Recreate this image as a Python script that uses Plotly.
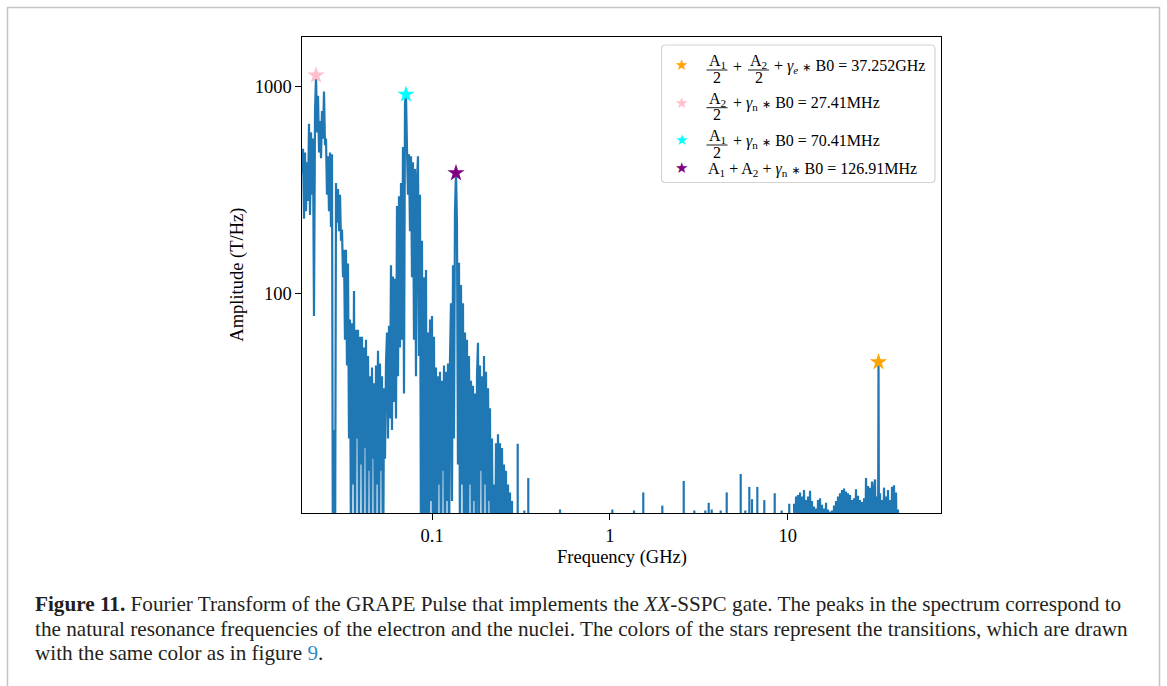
import plotly.graph_objects as go

# ---------------- data ----------------
# dense low-frequency part of the spectrum (GHz, T/Hz)
freq_low = [
    0.01853, 0.01877, 0.01902, 0.01926, 0.01951, 0.01977, 0.02003, 0.02029, 0.02055, 0.02082,
    0.02109, 0.02136, 0.02164, 0.02193, 0.02222, 0.02251, 0.02280, 0.02310, 0.02339, 0.02370,
    0.02400, 0.02432, 0.02463, 0.02495, 0.02528, 0.02561, 0.02594, 0.02628, 0.02662, 0.02697,
    0.02732, 0.02767, 0.02804, 0.02841, 0.02878, 0.02916, 0.02954, 0.02992, 0.03031, 0.03071,
    0.03111, 0.03151, 0.03192, 0.03233, 0.03275, 0.03318, 0.03361, 0.03405, 0.03450, 0.03495,
    0.03541, 0.03587, 0.03634, 0.03681, 0.03729, 0.03778, 0.03827, 0.03877, 0.03927, 0.03978,
    0.04030, 0.04083, 0.04136, 0.04190, 0.04245, 0.04300, 0.04356, 0.04413, 0.04470, 0.04528,
    0.04587, 0.04647, 0.04708, 0.04770, 0.04832, 0.04895, 0.04959, 0.05024, 0.05089, 0.05155,
    0.05223, 0.05291, 0.05360, 0.05429, 0.05500, 0.05572, 0.05644, 0.05718, 0.05792, 0.05868,
    0.05944, 0.06022, 0.06100, 0.06180, 0.06261, 0.06342, 0.06425, 0.06509, 0.06593, 0.06679,
    0.06766, 0.06854, 0.06944, 0.07034, 0.07126, 0.07219, 0.07313, 0.07408, 0.07505, 0.07603,
    0.07702, 0.07802, 0.07904, 0.08007, 0.08111, 0.08217, 0.08324, 0.08433, 0.08543, 0.08654,
    0.08767, 0.08882, 0.08997, 0.09115, 0.09234, 0.09354, 0.09476, 0.09600, 0.09725, 0.09852,
    0.09980, 0.1011, 0.1024, 0.1038, 0.1051, 0.1065, 0.1079, 0.1093, 0.1107, 0.1121,
    0.1136, 0.1151, 0.1166, 0.1181, 0.1196, 0.1212, 0.1228, 0.1244, 0.1260, 0.1276,
    0.1293, 0.1310, 0.1327, 0.1344, 0.1362, 0.1379, 0.1397, 0.1416, 0.1434, 0.1453,
    0.1472, 0.1491, 0.1510, 0.1530, 0.1550, 0.1570, 0.1591, 0.1611, 0.1633, 0.1654,
    0.1676, 0.1698, 0.1720, 0.1742, 0.1765, 0.1788, 0.1811, 0.1835, 0.1858, 0.1882,
    0.1907, 0.1932, 0.1957, 0.1983, 0.2009, 0.2035, 0.2062, 0.2088, 0.2115, 0.2143,
    0.2171, 0.2199, 0.2228, 0.2257, 0.2286, 0.2316, 0.2346, 0.2377, 0.2408, 0.2439,
    0.2471, 0.2503, 0.2536, 0.2569, 0.2602, 0.2636, 0.2671, 0.2706, 0.2741, 0.2777,
    0.2813, 0.2849,
]
amp_low = [
    380, 500, 230, 480, 250, 430, 280, 660, 240, 600,
    300, 560, 78, 750, 1130, 600, 900, 480, 680, 450,
    760, 560, 946, 520, 560, 300, 460, 250, 480, 210,
    470, 3, 22, 3, 342, 220, 320, 200, 300, 180,
    204, 120, 163, 60, 163, 45, 140, 20, 75, 5,
    72, 12, 103, 4, 67, 20, 67, 5, 62, 15,
    62, 4, 55, 18, 60, 3, 50, 14, 40, 4,
    44, 16, 37, 3, 45, 12, 53, 4, 46, 14,
    40, 3, 35, 16, 46, 65, 20, 70, 25, 137,
    22, 121, 30, 118, 25, 265, 40, 295, 55, 342,
    60, 510, 33, 832, 914, 500, 300, 470, 200, 460,
    120, 430, 60, 400, 40, 350, 460, 50, 300, 5,
    180, 3, 120, 8, 130, 3, 65, 4, 75, 10,
    78, 3, 62, 5, 44, 4, 40, 12, 42, 3,
    38, 14, 45, 3, 42, 10, 46, 4, 48, 90,
    10, 137, 20, 250, 382, 220, 15, 141, 5, 110,
    12, 90, 4, 65, 8, 60, 3, 50, 12, 38,
    4, 36, 10, 33, 3, 40, 58, 5, 45, 14,
    40, 3, 50, 12, 42, 4, 35, 10, 28, 3,
    20, 4, 12, 3, 19, 4, 21, 6, 19, 3,
    18, 5, 15, 4, 14, 3, 12, 5, 11, 3,
    10, 2,
]

# isolated lines between 0.3 GHz and 10 GHz
spike_freq = [0.3029, 0.3300, 0.3474, 0.524, 1.032, 1.366, 1.541, 1.972, 2.602, 2.985,
              3.441, 3.596, 3.738, 4.201, 4.541, 5.443, 5.777, 6.086, 6.302, 6.751,
              7.389, 8.455, 9.259, 10.21]
spike_amp = [18.9, 9.0, 12.9, 9.1, 9.1, 9.0, 11.0, 9.5, 12.5, 9.0,
             9.0, 9.8, 9.1, 9.0, 11.0, 13.5, 9.0, 11.7, 10.2, 11.7,
             10.1, 10.9, 9.0, 9.7]

# dense high-frequency cluster (10-42 GHz)
freq_high = [
    10.86, 11.00, 11.15, 11.29, 11.44, 11.59, 11.74, 11.89, 12.05, 12.20,
    12.36, 12.52, 12.68, 12.85, 13.02, 13.19, 13.36, 13.54, 13.71, 13.89,
    14.07, 14.25, 14.44, 14.63, 14.82, 15.01, 15.21, 15.40, 15.60, 15.81,
    16.02, 16.23, 16.44, 16.65, 16.87, 17.09, 17.31, 17.54, 17.77, 18.00,
    18.23, 18.47, 18.71, 18.95, 19.20, 19.45, 19.70, 19.96, 20.22, 20.48,
    20.75, 21.02, 21.29, 21.57, 21.85, 22.14, 22.43, 22.72, 23.02, 23.32,
    23.62, 23.93, 24.24, 24.56, 24.88, 25.20, 25.53, 25.86, 26.20, 26.54,
    26.89, 27.24, 27.60, 27.96, 28.32, 28.69, 29.06, 29.44, 29.83, 30.22,
    30.61, 31.01, 31.41, 31.82, 32.24, 32.45, 32.66, 33.08, 33.52, 33.95,
    34.39, 34.84, 35.30, 35.76, 36.22, 36.69, 37.17, 37.66, 38.15, 38.64,
    39.15, 39.66, 40.18, 40.70, 41.23, 41.76, 42.30,
]
amp_high = [
    9.7, 5, 10.5, 5, 10.7, 6, 11.0, 5, 10.5, 5,
    11.3, 7, 10.1, 5, 10.5, 5, 11.2, 6, 10.0, 5,
    9.4, 5, 9.2, 5, 10.1, 5, 10.3, 5, 9.6, 5,
    9.2, 5, 9.8, 5, 9.1, 5, 8.9, 5, 9.0, 5,
    9.5, 5, 10.0, 6, 10.5, 5, 10.9, 7, 11.3, 5,
    11.5, 6, 11.1, 5, 10.9, 6, 10.7, 5, 10.1, 5,
    10.3, 5, 11.4, 5, 10.6, 5, 10.1, 5, 9.9, 5,
    10.3, 5, 12.9, 5, 11.8, 6, 11.6, 5, 12.4, 6,
    11.5, 12.7, 5, 10.5, 5, 46.8, 5, 10.9, 5, 10.1,
    5, 11.6, 6, 10.5, 5, 11.3, 5, 10.1, 5, 11.7,
    6, 11.9, 5, 11.0, 5, 9.1, 3,
]

# marked transitions (legend order)
star_freq = [32.45, 0.02222, 0.07126, 0.1362]
star_amp = [46.8, 1130, 914, 382]
star_colors = ["#FFA500", "#FFC0CB", "#00FFFF", "#800080"]

x_tick_vals = [0.1, 1, 10]
x_tick_text = ["0.1", "1", "10"]
y_tick_vals = [100, 1000]
y_tick_text = ["100", "1000"]

x_title = "Frequency (GHz)"
y_title = "Amplitude (T/Hz)"

caption_lines = [
    "<b>Figure 11.</b> Fourier Transform of the GRAPE Pulse that implements the <i>XX</i>-SSPC gate. "
    "The peaks in the spectrum correspond to",
    "the natural resonance frequencies of the electron and the nuclei. The colors of the stars "
    "represent the transitions, which are drawn",
    "with the same color as in figure <span style='color:#2a8ac6'>9</span>.",
]

# ---------------- layout geometry ----------------
W, H = 1167, 686
L, R, T, B = 302, 941, 37, 513
FONT = "Liberation Serif"
LINE = "#1f77b4"
AST = "<span style='font-family:DejaVu Sans; font-size:11px'>∗</span>"


def px(x):
    return (x - L) / (R - L)


def py(y):
    return (B - y) / (B - T)


fig = go.Figure()

fig.add_trace(go.Scatter(x=freq_low, y=amp_low, mode="lines",
                         line=dict(color=LINE, width=2.2, simplify=False),
                         hoverinfo="skip", showlegend=False))
fig.add_trace(go.Scatter(x=freq_high, y=amp_high, mode="lines",
                         line=dict(color=LINE, width=2.2, simplify=False),
                         hoverinfo="skip", showlegend=False))
sx, sy = [], []
for f, a in zip(spike_freq, spike_amp):
    sx += [f, f, None]
    sy += [1, a, None]
fig.add_trace(go.Scatter(x=sx, y=sy, mode="lines",
                         line=dict(color=LINE, width=2.2),
                         hoverinfo="skip", showlegend=False))
fig.add_trace(go.Scatter(x=star_freq, y=star_amp, mode="markers",
                         marker=dict(symbol="star", size=13, color=star_colors,
                                     line=dict(width=0)),
                         hoverinfo="skip", showlegend=False))

axis_common = dict(type="log", ticks="outside", ticklen=5.5, tickwidth=1.2,
                   tickcolor="black", showline=True, linecolor="black",
                   linewidth=1.3, mirror=True, showgrid=False, zeroline=False,
                   tickfont=dict(family=FONT, size=18.5, color="black"))
fig.update_xaxes(range=[-1.7322, 1.8627], tickvals=x_tick_vals,
                 ticktext=x_tick_text, **axis_common)
fig.update_yaxes(range=[0.9421, 3.2383], tickvals=y_tick_vals,
                 ticktext=y_tick_text, **axis_common)


def ann(x, y, text, size, xanchor="center", yanchor="middle",
        color="black", angle=0, family=FONT):
    fig.add_annotation(x=px(x), y=py(y), xref="paper", yref="paper",
                       text=text, showarrow=False, xanchor=xanchor,
                       yanchor=yanchor, textangle=angle,
                       font=dict(family=family, size=size, color=color))


shapes = []


def hline(x0, x1, y, width=1.0, color="black"):
    shapes.append(dict(type="line", xref="paper", yref="paper",
                       x0=px(x0), x1=px(x1), y0=py(y), y1=py(y),
                       line=dict(color=color, width=width)))


# axis titles
ann((L + R) / 2, 557, x_title, 18.5)
ann(236.7, 275, y_title, 18.5, angle=-90)

# legend box (rounded)
lx0, ly0, lx1, ly1, rr = 661.5, 45, 935, 182.5, 4
pth = (f"M {px(lx0 + rr)} {py(ly0)} L {px(lx1 - rr)} {py(ly0)} "
       f"Q {px(lx1)} {py(ly0)} {px(lx1)} {py(ly0 + rr)} "
       f"L {px(lx1)} {py(ly1 - rr)} Q {px(lx1)} {py(ly1)} {px(lx1 - rr)} {py(ly1)} "
       f"L {px(lx0 + rr)} {py(ly1)} Q {px(lx0)} {py(ly1)} {px(lx0)} {py(ly1 - rr)} "
       f"L {px(lx0)} {py(ly0 + rr)} Q {px(lx0)} {py(ly0)} {px(lx0 + rr)} {py(ly0)} Z")
shapes.append(dict(type="path", xref="paper", yref="paper", path=pth,
                   line=dict(color="#d4d4d4", width=1.2), fillcolor="white",
                   layer="below"))

FS = 16
row_y = [65, 102.7, 140, 168.3]


def frac(xc, ry, num, den, w):
    ann(xc, ry - 3.5, num, FS)
    ann(xc, ry + 12, den, FS)
    hline(xc - w / 2, xc + w / 2, ry + 5, width=0.9)


for c, ry in zip(star_colors, row_y):
    ann(681.7, ry, "★", 15, color=c, family="DejaVu Sans")

r1, r2, r3, r4 = row_y
frac(717, r1, "A<sub>1</sub>", "2", 21)
ann(737.5, r1 + 1.5, "+", FS)
frac(758.5, r1, "A<sub>2</sub>", "2", 21)
ann(772, r1 + 1, f"+ <i>γ</i><sub><i>e</i></sub> {AST} B0 = 37.252GHz", FS, xanchor="left")

frac(717, r2, "A<sub>2</sub>", "2", 21)
ann(730.5, r2 + 1, f"+ <i>γ</i><sub>n</sub> {AST} B0 = 27.41MHz", FS, xanchor="left")

frac(717, r3, "A<sub>1</sub>", "2", 21)
ann(730.5, r3 + 1, f"+ <i>γ</i><sub>n</sub> {AST} B0 = 70.41MHz", FS, xanchor="left")

ann(705.5, r4 + 1,
    f"A<sub>1</sub> + A<sub>2</sub> + <i>γ</i><sub>n</sub> {AST} B0 = 126.91MHz",
    FS, xanchor="left")

# caption
for yy, line in zip([604, 629, 653], caption_lines):
    ann(33, yy, line, 21.2, xanchor="left", color="#231f20")

# outer page frame
shapes.append(dict(type="rect", xref="paper", yref="paper",
                   x0=px(7.5), x1=px(1159.5), y0=py(7.5), y1=py(720),
                   line=dict(color="#c4c4c4", width=1.5), fillcolor="rgba(0,0,0,0)"))

fig.update_layout(width=W, height=H, margin=dict(l=L, r=W - R, t=T, b=H - B),
                  paper_bgcolor="white", plot_bgcolor="white", showlegend=False,
                  shapes=shapes)

fig.write_html("out.html", config={"displayModeBar": False},
               post_script="document.body.style.margin='0';")
